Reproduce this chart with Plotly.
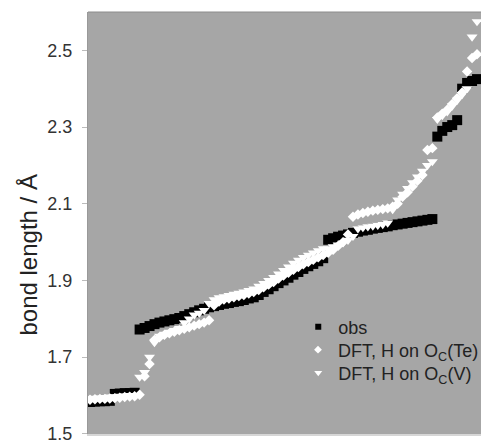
import plotly.graph_objects as go

# ---- data (x = rank index of the bond, y = bond length / Å) ----
obs_x = list(range(0, 70)) + [70, 71, 72, 73, 74, 75, 76, 77, 78]
obs_y = [1.583, 1.584, 1.585, 1.585, 1.586, 1.604, 1.605, 1.606, 1.606, 1.607,
         1.772, 1.776, 1.781, 1.786, 1.790, 1.793, 1.796, 1.799, 1.802, 1.807,
         1.812, 1.817, 1.822, 1.826, 1.830, 1.833, 1.836, 1.839, 1.841, 1.844,
         1.846, 1.849, 1.853, 1.856, 1.862, 1.870, 1.877, 1.885, 1.893, 1.900,
         1.907, 1.915, 1.922, 1.930, 1.937, 1.943, 1.950, 1.958, 2.006, 2.010,
         2.014, 2.017, 2.020, 2.024, 2.027, 2.030, 2.032, 2.035, 2.037, 2.039,
         2.041, 2.044, 2.046, 2.048, 2.050, 2.052, 2.054, 2.056, 2.058, 2.060,
         2.275, 2.290, 2.300, 2.305, 2.318, 2.400, 2.415, 2.420, 2.425]

te_x = list(range(0, 79))
te_y = [1.589, 1.590, 1.591, 1.591, 1.592, 1.593, 1.594, 1.596, 1.597, 1.598,
        1.602, 1.650, 1.682, 1.745, 1.752, 1.758, 1.762, 1.766, 1.770, 1.774,
        1.778, 1.782, 1.786, 1.790, 1.796, 1.835, 1.845, 1.850, 1.853, 1.856,
        1.859, 1.862, 1.866, 1.870, 1.875, 1.882, 1.889, 1.896, 1.905, 1.913,
        1.920, 1.928, 1.935, 1.942, 1.948, 1.954, 1.960, 1.966, 1.972, 1.980,
        1.990, 2.000, 2.020, 2.066, 2.072, 2.076, 2.079, 2.082, 2.084, 2.086,
        2.088, 2.092, 2.100, 2.118, 2.130, 2.145, 2.160, 2.175, 2.240, 2.245,
        2.325, 2.335, 2.345, 2.360, 2.375, 2.390, 2.445, 2.480, 2.490]

v_x = list(range(0, 79))
v_y = [1.592, 1.593, 1.594, 1.595, 1.596, 1.597, 1.598, 1.599, 1.600, 1.600,
       1.648, 1.660, 1.700, 1.738, 1.755, 1.760, 1.765, 1.770, 1.775, 1.790,
       1.800, 1.810, 1.815, 1.822, 1.840, 1.850, 1.855, 1.858, 1.861, 1.864,
       1.867, 1.870, 1.874, 1.878, 1.885, 1.892, 1.900, 1.908, 1.917, 1.926,
       1.935, 1.945, 1.953, 1.960, 1.966, 1.972, 1.978, 1.983, 1.982, 1.988,
       1.993, 1.998, 2.005, 2.015, 2.035, 2.038, 2.040, 2.042, 2.044, 2.046,
       2.050, 2.085, 2.110, 2.125, 2.140, 2.155, 2.170, 2.185, 2.200, 2.210,
       2.320, 2.330, 2.340, 2.355, 2.370, 2.385, 2.400, 2.535, 2.575]

y_ticks = [1.5, 1.7, 1.9, 2.1, 2.3, 2.5]
y_tick_text = ["1.5", "1.7", "1.9", "2.1", "2.3", "2.5"]

series_names = ["obs", "DFT, H on O<sub>C</sub>(Te)", "DFT, H on O<sub>C</sub>(V)"]

FONT = "Liberation Sans, Arial, sans-serif"

fig = go.Figure()

fig.add_trace(go.Scatter(x=obs_x, y=obs_y, mode="markers", showlegend=False,
                         marker=dict(symbol="square", size=10, color="black", line=dict(width=0))))
fig.add_trace(go.Scatter(x=te_x, y=te_y, mode="markers", showlegend=False,
                         marker=dict(symbol="diamond", size=8, color="white", line=dict(width=0))))
fig.add_trace(go.Scatter(x=v_x, y=v_y, mode="markers", showlegend=False,
                         marker=dict(symbol="triangle-down", size=9.5, color="white", line=dict(width=0))))

# legend entries (small symbols as in the original), one legend box per row
legend_ids = ["legend", "legend2", "legend3"]
for name, sym, col, sz, lg in [(series_names[0], "square", "black", 6, legend_ids[0]),
                               (series_names[1], "diamond", "white", 6, legend_ids[1]),
                               (series_names[2], "triangle-down", "white", 7, legend_ids[2])]:
    fig.add_trace(go.Scatter(x=[None], y=[None], mode="markers", name=name, legend=lg,
                             marker=dict(symbol=sym, size=sz, color=col, line=dict(width=0))))

leg_common = dict(x=0.535, xanchor="left", yanchor="middle",
                  bgcolor="rgba(0,0,0,0)", borderwidth=0,
                  font=dict(family=FONT, size=18, color="#222222"))

fig.update_layout(
    width=484, height=443, autosize=False,
    margin=dict(l=88, r=0, t=12, b=9),
    paper_bgcolor="white",
    plot_bgcolor="#a6a6a6",
    font=dict(family=FONT, size=18, color="#333333"),
    showlegend=True,
    legend=dict(y=0.2536, **leg_common),
    legend2=dict(y=0.199, **leg_common),
    legend3=dict(y=0.1445, **leg_common),
    xaxis=dict(range=[-0.4, 78.8], showticklabels=False, ticks="", showgrid=False,
               zeroline=False, showline=True, linecolor="#d6d6d6", linewidth=2),
    yaxis=dict(range=[1.4995, 2.6], tickvals=y_ticks, ticktext=y_tick_text,
               ticks="outside", ticklen=5, tickcolor="#bbbbbb", tickwidth=1,
               showgrid=False, zeroline=False, showline=True, linecolor="#999999",
               linewidth=1, tickfont=dict(family=FONT, size=18, color="#333333"),
               ticklabelstandoff=6, ticklabeloverflow="allow"),
    shapes=[dict(type="line", xref="paper", yref="paper", x0=0, x1=1, y0=1, y1=1,
                 line=dict(color="#8c8c8c", width=1))],
    annotations=[dict(text="bond length / Å", xref="paper", yref="paper",
                      x=-0.1515, y=0.424, xanchor="center", yanchor="middle",
                      textangle=-90, showarrow=False,
                      font=dict(family=FONT, size=24, color="#222222"))],
)

fig.write_html("out.html")
